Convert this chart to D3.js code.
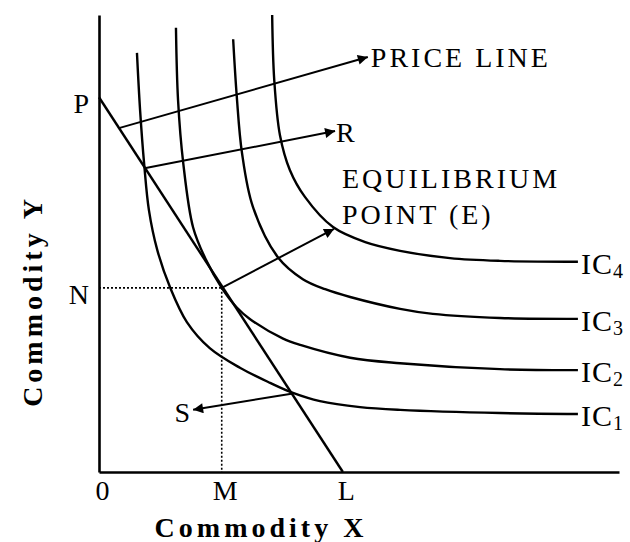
<!DOCTYPE html>
<html>
<head>
<meta charset="utf-8">
<script src="https://cdn.jsdelivr.net/npm/d3@7"></script>
<style>
  body { margin: 0; background: #fff; }
  text { font-family: "Liberation Serif", "Times New Roman", serif; fill: #000; }
</style>
</head>
<body>
<script>
	// canvas
	var width = 630;
	var height = 542;

	// indifference curves (units of commodity X / commodity Y)
	var ic1X = [0.73, 0.79, 0.87, 0.96, 1.12, 1.37, 1.69, 2.13, 2.71, 3.29, 3.73, 4.25, 5.02, 5.79, 7.71, 9.21];
	var ic1Y = [9.17, 7.92, 6.72, 5.73, 4.86, 4.03, 3.28, 2.71, 2.28, 1.95, 1.73, 1.55, 1.42, 1.36, 1.29, 1.27];
	var ic2X = [1.48, 1.52, 1.62, 1.81, 2.05, 2.36, 2.65, 2.90, 3.54, 3.87, 4.83, 5.79, 7.71, 9.21];
	var ic2Y = [9.72, 8.14, 6.76, 5.35, 4.66, 4.03, 3.60, 3.35, 2.92, 2.78, 2.50, 2.38, 2.25, 2.23];
	var ic3X = [2.58, 2.65, 2.75, 2.96, 3.44, 3.92, 4.35, 4.83, 5.79, 6.42, 7.71, 9.21];
	var ic3Y = [9.47, 8.21, 6.98, 5.80, 4.70, 4.22, 4.00, 3.83, 3.57, 3.46, 3.37, 3.35];
	var ic4X = [3.33, 3.37, 3.48, 3.67, 3.96, 4.50, 5.12, 5.79, 6.75, 7.71, 9.21];
	var ic4Y = [10.0, 8.58, 7.37, 6.61, 6.02, 5.36, 5.03, 4.84, 4.68, 4.62, 4.60];
	var icSubs = ["1", "2", "3", "4"];

	// price line P -> L and equilibrium E (M, N)
	var priceLineX = [0, 4.69];
	var priceLineY = [8.2, 0];
	var eqX = 2.36;
	var eqY = 4.03;

	// tick labels
	var xTickValues = [0, eqX, 4.69];
	var xTickLabels = ["0", "M", "L"];
	var yTickValues = [eqY, 8.2];
	var yTickLabels = ["N", "P"];

	// pointer arrows: [fromX, fromY, toX, toY]
	var priceArrow = [0.40, 7.53, 5.17, 9.08];
	var rArrow = [0.90, 6.65, 4.54, 7.46];
	var eArrow = [eqX, eqY, 4.52, 5.32];
	var sArrow = [3.73, 1.72, 1.81, 1.36];

	var svg = d3.select("body")
		.append("svg")
		.attr("width", width)
		.attr("height", height);

	var x = d3.scaleLinear().domain([0, 10]).range([99, 619]);
	var y = d3.scaleLinear().domain([0, 10]).range([472, 15]);

	// arrow head
	svg.append("defs").append("marker")
		.attr("id", "arrow")
		.attr("viewBox", "0 -5 10 10")
		.attr("refX", 10)
		.attr("refY", 0)
		.attr("markerUnits", "userSpaceOnUse")
		.attr("markerWidth", 15)
		.attr("markerHeight", 10)
		.attr("orient", "auto")
		.append("path")
		.attr("d", "M0,-5L10,0L0,5Z")
		.attr("fill", "#000");

	// dotted guides E -> N and E -> M
	var guides = svg.append("g")
		.attr("stroke", "#000")
		.attr("stroke-width", 1.6)
		.attr("stroke-dasharray", "2,2");
	guides.append("line")
		.attr("x1", x(0)).attr("y1", y(eqY))
		.attr("x2", x(eqX)).attr("y2", y(eqY));
	guides.append("line")
		.attr("x1", x(eqX)).attr("y1", y(eqY))
		.attr("x2", x(eqX)).attr("y2", y(0));

	// axes
	var xAxis = d3.axisBottom(x)
		.tickValues(xTickValues)
		.tickFormat(function(d, i){ return xTickLabels[i]; })
		.tickSize(0)
		.tickSizeOuter(0)
		.tickPadding(8);
	var yAxis = d3.axisLeft(y)
		.tickValues(yTickValues)
		.tickFormat(function(d, i){ return yTickLabels[i]; })
		.tickSize(0)
		.tickSizeOuter(0)
		.tickPadding(10);

	var gx = svg.append("g")
		.attr("transform", "translate(0," + y(0) + ")")
		.call(xAxis);
	var gy = svg.append("g")
		.attr("transform", "translate(" + x(0) + ",0)")
		.call(yAxis);

	[gx, gy].forEach(function(g){
		g.attr("font-family", null).attr("font-size", null);
		g.select(".domain").attr("stroke", "#000").attr("stroke-width", 2.6);
		g.selectAll("text").style("font-size", "28px");
	});
	gx.selectAll("text").attr("dx", 3);
	gy.selectAll("text").attr("dy", "0.55em");

	// price line
	svg.append("line")
		.attr("x1", x(priceLineX[0])).attr("y1", y(priceLineY[0]))
		.attr("x2", x(priceLineX[1])).attr("y2", y(priceLineY[1]))
		.attr("stroke", "#000")
		.attr("stroke-width", 2.4);

	// indifference curves
	var curves = [
		d3.zip(ic1X, ic1Y),
		d3.zip(ic2X, ic2Y),
		d3.zip(ic3X, ic3Y),
		d3.zip(ic4X, ic4Y)
	];
	var line = d3.line()
		.x(function(d){ return x(d[0]); })
		.y(function(d){ return y(d[1]); })
		.curve(d3.curveCatmullRom.alpha(0.5));

	svg.selectAll(".ic")
		.data(curves)
		.enter()
		.append("path")
		.attr("class", "ic")
		.attr("d", line)
		.attr("fill", "none")
		.attr("stroke", "#000")
		.attr("stroke-width", 2.4);

	// curve labels IC1..IC4
	var icText = svg.selectAll(".ic-label")
		.data(curves)
		.enter()
		.append("text")
		.attr("class", "ic-label")
		.attr("x", function(d){ return x(d[d.length - 1][0]) + 3; })
		.attr("y", function(d){ return y(d[d.length - 1][1]) + 12; })
		.style("font-size", "30px")
		.attr("letter-spacing", 1);
	icText.append("tspan").text("IC");
	icText.append("tspan")
		.attr("dy", 4)
		.style("font-size", "20px")
		.text(function(d, i){ return icSubs[i]; });

	// pointer arrows
	svg.selectAll(".pointer")
		.data([priceArrow, rArrow, eArrow, sArrow])
		.enter()
		.append("line")
		.attr("class", "pointer")
		.attr("x1", function(d){ return x(d[0]); })
		.attr("y1", function(d){ return y(d[1]); })
		.attr("x2", function(d){ return x(d[2]); })
		.attr("y2", function(d){ return y(d[3]); })
		.attr("stroke", "#000")
		.attr("stroke-width", 2)
		.attr("marker-end", "url(#arrow)");

	// annotation texts
	svg.append("text")
		.attr("x", x(priceArrow[2]) + 3)
		.attr("y", y(priceArrow[3]) + 10)
		.style("font-size", "28px")
		.attr("letter-spacing", 3)
		.text("PRICE LINE");
	svg.append("text")
		.attr("x", x(rArrow[2]) + 1)
		.attr("y", y(rArrow[3]) + 11)
		.style("font-size", "28px")
		.text("R");
	svg.append("text")
		.attr("x", 342)
		.attr("y", 188)
		.style("font-size", "28px")
		.attr("letter-spacing", 3)
		.text("EQUILIBRIUM");
	svg.append("text")
		.attr("x", 342)
		.attr("y", 224)
		.style("font-size", "28px")
		.attr("letter-spacing", 3)
		.text("POINT (E)");
	svg.append("text")
		.attr("x", x(sArrow[2]) - 3)
		.attr("y", y(sArrow[3]) + 12)
		.attr("text-anchor", "end")
		.style("font-size", "28px")
		.text("S");

	// axis titles
	svg.append("text")
		.attr("x", 261)
		.attr("y", 537)
		.attr("text-anchor", "middle")
		.style("font-size", "28px")
		.style("font-weight", "bold")
		.attr("letter-spacing", 4)
		.text("Commodity X");
	svg.append("text")
		.attr("transform", "translate(42,301) rotate(-90)")
		.attr("text-anchor", "middle")
		.style("font-size", "28px")
		.style("font-weight", "bold")
		.attr("letter-spacing", 4)
		.text("Commodity Y");
</script>
</body>
</html>
